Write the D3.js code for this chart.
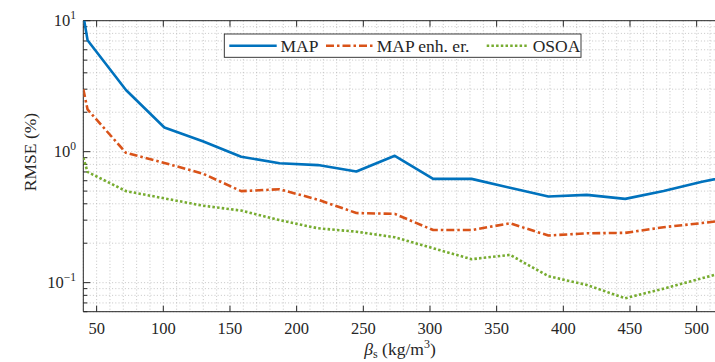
<!DOCTYPE html>
<html><head><meta charset="utf-8">
<script src="https://cdn.jsdelivr.net/npm/d3@7/dist/d3.min.js"></script>
<style>
body{margin:0;background:#fff;}
svg text{font-family:"Liberation Serif","Times New Roman",serif;fill:#262626;}
</style></head>
<body>
<svg id="chart" width="715" height="362"></svg>
<script>
const xValues = [40, 43.2, 72, 100.8, 129.6, 158.4, 187.2, 216, 244.8, 273.6, 302.4, 331.2, 360, 388.8, 417.6, 446.4, 475.2, 504, 532.8];
const mapValues = [11, 7.1, 2.96, 1.53, 1.2, 0.915, 0.815, 0.79, 0.705, 0.93, 0.62, 0.62, 0.53, 0.455, 0.468, 0.436, 0.5, 0.59, 0.676];
const enhValues = [3.0, 2.1, 0.98, 0.82, 0.68, 0.5, 0.516, 0.43, 0.34, 0.335, 0.252, 0.252, 0.284, 0.229, 0.238, 0.24, 0.265, 0.285, 0.31];
const osoaValues = [0.9, 0.7, 0.5, 0.44, 0.387, 0.355, 0.30, 0.26, 0.245, 0.222, 0.183, 0.151, 0.163, 0.112, 0.096, 0.076, 0.09, 0.108, 0.13];
const seriesNames = ["MAP", "MAP enh. er.", "OSOA"];
const xTicks = [50, 100, 150, 200, 250, 300, 350, 400, 450, 500];
const yTicks = [0.1, 1, 10];
const yTickExponents = ["\u22121", "0", "1"];

const FONT = "Liberation Serif, Times New Roman, serif";
const svg = d3.select("#chart");
const L = 83.3, T = 20.7, R = 720, B = 311.7;
const x = d3.scaleLinear().domain([40, 517.5]).range([L, R]);
const y = d3.scaleLog().domain([0.06, 10]).range([B, T]);

svg.append("defs").append("clipPath").attr("id", "clip")
  .append("rect").attr("x", L).attr("y", T).attr("width", R - L).attr("height", B - T);

// grid
const grid = svg.append("g").attr("stroke", "#b8b8b8").attr("stroke-width", 0.8).attr("stroke-dasharray", "1,2.2");
const xMinor = d3.range(40, 518, 10);
grid.selectAll(".gx").data(xMinor).join("line")
  .attr("x1", d => x(d)).attr("x2", d => x(d)).attr("y1", T).attr("y2", B);
const yMinor = [];
[0.01, 0.1, 1].forEach(dec => { for (let k = 1; k <= 9; k++) { const v = dec * k; if (v >= 0.06 && v <= 10) yMinor.push(v); } });
yMinor.push(10);
grid.selectAll(".gy").data(yMinor).join("line")
  .attr("x1", L).attr("x2", R).attr("y1", d => y(d)).attr("y2", d => y(d));

// axes box
const axisColor = "#262626";
svg.append("line").attr("x1", L).attr("x2", R).attr("y1", B).attr("y2", B).attr("stroke", axisColor);
svg.append("line").attr("x1", L).attr("x2", R).attr("y1", T).attr("y2", T).attr("stroke", axisColor);
svg.append("line").attr("x1", L).attr("x2", L).attr("y1", T).attr("y2", B).attr("stroke", axisColor);

// x ticks (inside, bottom and top)
const xt = svg.append("g").attr("stroke", axisColor);
xTicks.forEach(t => {
  xt.append("line").attr("x1", x(t)).attr("x2", x(t)).attr("y1", B).attr("y2", B - 6);
  xt.append("line").attr("x1", x(t)).attr("x2", x(t)).attr("y1", T).attr("y2", T + 6);
});
svg.append("g").selectAll("text").data(xTicks).join("text")
  .attr("x", d => x(d)).attr("y", 334).attr("text-anchor", "middle")
  .attr("font-family", FONT).attr("font-size", 16.5).text(d => d);

// y ticks
const yt = svg.append("g").attr("stroke", axisColor);
yMinor.forEach(v => {
  const major = yTicks.some(t => Math.abs(t - v) < 1e-9);
  yt.append("line").attr("x1", L).attr("x2", L + (major ? 7 : 4)).attr("y1", y(v)).attr("y2", y(v));
});
yTicks.forEach((t, i) => {
  const tx = svg.append("text").attr("x", 76).attr("y", y(t) + 5).attr("text-anchor", "end")
    .attr("font-family", FONT).attr("font-size", 16.5);
  tx.append("tspan").text("10");
  tx.append("tspan").attr("dy", -7).attr("font-size", 11.5).text(yTickExponents[i]);
});

// lines
const plot = svg.append("g").attr("clip-path", "url(#clip)");
const line = d3.line().x(d => x(d[0])).y(d => y(d[1]));
const series = [
  { vals: mapValues, color: "#0072BD", dash: null },
  { vals: enhValues, color: "#D95319", dash: "8,3,2.5,3" },
  { vals: osoaValues, color: "#77AC30", dash: "2.5,2.2" }
];
series.forEach(s => {
  plot.append("path").datum(xValues.map((xv, i) => [xv, s.vals[i]]))
    .attr("d", line).attr("fill", "none").attr("stroke", s.color)
    .attr("stroke-width", 2.6).attr("stroke-linejoin", "round")
    .attr("stroke-dasharray", s.dash);
});

// legend
const lg = svg.append("g");
lg.append("rect").attr("x", 224.3).attr("y", 34).attr("width", 356.7).attr("height", 23.3)
  .attr("fill", "#fff").attr("stroke", "#262626").attr("stroke-width", 0.9);
const legendItems = [
  { x1: 229.3, x2: 276.7, tx: 280.5 },
  { x1: 326, x2: 373.3, tx: 376.7 },
  { x1: 486.7, x2: 526.7, tx: 532.7 }
];
series.forEach((s, i) => {
  const it = legendItems[i];
  lg.append("line").attr("x1", it.x1).attr("x2", it.x2).attr("y1", 45.7).attr("y2", 45.7)
    .attr("stroke", s.color).attr("stroke-width", 2.6).attr("stroke-dasharray", s.dash);
  lg.append("text").attr("x", it.tx).attr("y", 51.5).attr("font-family", FONT)
    .attr("font-size", 17.5).text(seriesNames[i]);
});

// axis labels
const xl = svg.append("text").attr("x", 400).attr("y", 355).attr("text-anchor", "middle")
  .attr("font-family", FONT).attr("font-size", 17.5);
xl.append("tspan").attr("font-style", "italic").text("\u03B2");
xl.append("tspan").attr("dy", 3).attr("font-size", 12).text("s");
xl.append("tspan").attr("dy", -3).text(" (kg/m");
xl.append("tspan").attr("dy", -7).attr("font-size", 12).text("3");
xl.append("tspan").attr("dy", 7).text(")");

svg.append("text").attr("transform", "translate(36,152) rotate(-90)")
  .attr("text-anchor", "middle").attr("font-family", FONT).attr("font-size", 17.5).text("RMSE (%)");
</script>
</body></html>
